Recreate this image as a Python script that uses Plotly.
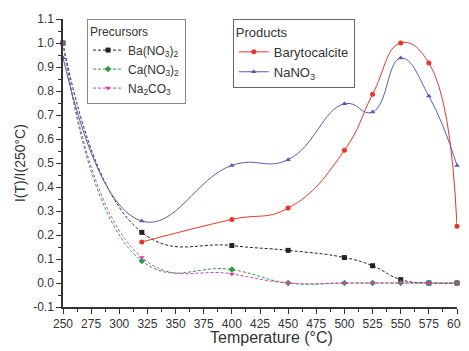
import plotly.graph_objects as go

temps = [250, 320, 400, 450, 500, 525, 550, 575, 600]
temps_prod = [320, 400, 450, 500, 525, 550, 575, 600]

ba_no3 = [1.0, 0.211, 0.156, 0.136, 0.106, 0.072, 0.014, 0.0, 0.0]
ca_no3 = [1.0, 0.092, 0.056, 0.0, 0.0, 0.0, 0.0, 0.0, 0.0]
na2co3 = [1.0, 0.106, 0.038, 0.0, 0.0, 0.0, 0.0, 0.0, 0.0]

barytocalcite = [0.171, 0.265, 0.312, 0.553, 0.786, 1.0, 0.917, 0.236]
nano3 = [0.939, 0.258, 0.49, 0.514, 0.747, 0.712, 0.937, 0.779, 0.49]

x_ticks = list(range(250, 601, 25))
y_ticks = [round(-0.1 + 0.1 * i, 1) for i in range(13)]

fig = go.Figure()

def add(x, y, name, color, symbol, dash, legend, width=1.0):
    fig.add_trace(go.Scatter(
        x=x, y=y, name=name, mode="lines+markers",
        line=dict(color=color, width=width, dash=dash, shape="spline", smoothing=1.3),
        marker=dict(color=color, symbol=symbol, size=5),
        legend=legend, cliponaxis=False,
    ))

add(temps, ba_no3, "Ba(NO<sub>3</sub>)<sub>2</sub>", "#222222", "square", "3px,2px", "legend")
add(temps, ca_no3, "Ca(NO<sub>3</sub>)<sub>2</sub>", "#2a9d3a", "diamond", "3px,2px", "legend")
add(temps, na2co3, "Na<sub>2</sub>CO<sub>3</sub>", "#cc44bb", "triangle-down", "3px,2px", "legend")
add(temps_prod, barytocalcite, "Barytocalcite", "#e8342c", "circle", "solid", "legend2")
add(temps, nano3, "NaNO<sub>3</sub>", "#5a5ab4", "triangle-up", "solid", "legend2")

axis_font = dict(family="Liberation Sans, Arial, sans-serif", size=12, color="#333333")

fig.update_layout(
    width=461, height=343,
    margin=dict(l=55, r=12, t=11, b=44),
    paper_bgcolor="white", plot_bgcolor="white",
    font=dict(family="Liberation Sans, Arial, sans-serif", color="#333333"),
    showlegend=True,
    legend=dict(
        title=dict(text="Precursors", font=dict(size=12, color="#333333")),
        x=0.061, y=1.0, xanchor="left", yanchor="top",
        bordercolor="#888888", borderwidth=1, bgcolor="white",
        font=dict(size=12, color="#333333"),
        tracegroupgap=0, itemwidth=30,
    ),
    legend2=dict(
        title=dict(text="Products", font=dict(size=13, color="#333333")),
        x=0.431, y=1.0, xanchor="left", yanchor="top",
        bordercolor="#666666", borderwidth=1, bgcolor="white",
        font=dict(size=13, color="#333333"),
        itemwidth=30,
    ),
    xaxis=dict(
        range=[250, 600], tickvals=x_ticks, ticks="outside", ticklen=5,
        tickcolor="#333333", showline=True, linecolor="#333333", linewidth=1.5,
        showgrid=False, zeroline=False, tickfont=axis_font, automargin=False,
        minor=dict(dtick=12.5, ticks="outside", ticklen=3, tickcolor="#333333"),
    ),
    yaxis=dict(
        range=[-0.1, 1.1], tickvals=y_ticks, ticktext=[f"{v:.1f}" for v in y_ticks],
        ticks="outside", ticklen=5,
        tickcolor="#333333", showline=True, linecolor="#333333", linewidth=1.5,
        showgrid=False, zeroline=False, tickfont=axis_font, automargin=False,
        minor=dict(dtick=0.05, ticks="outside", ticklen=3, tickcolor="#333333"),
    ),
    annotations=[
        dict(text="Temperature (°C)", xref="paper", yref="paper", x=0.529, y=-0.107,
             xanchor="center", yanchor="middle", showarrow=False,
             font=dict(size=16, color="#333333")),
        dict(text="I(T)/I(250°C)", xref="paper", yref="paper", x=-0.109, y=0.5,
             xanchor="center", yanchor="middle", textangle=-90, showarrow=False,
             font=dict(size=14, color="#333333")),
    ],
)

fig.write_html("out.html")
